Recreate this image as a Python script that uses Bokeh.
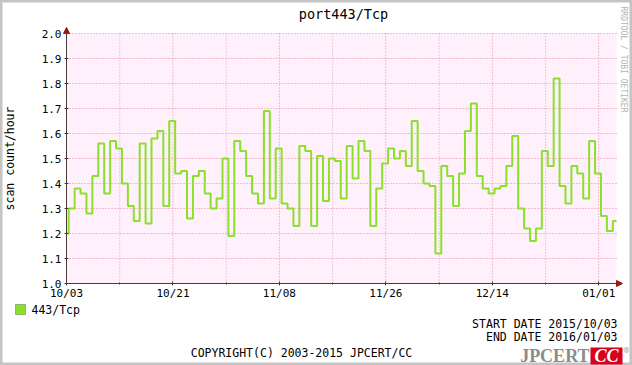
from datetime import datetime, timedelta
from math import pi
from bokeh.plotting import figure
from bokeh.models import (Range1d, FixedTicker, DatetimeTickFormatter, PrintfTickFormatter,
                          Label, Arrow, NormalHead, BoxAnnotation)
from bokeh.embed import file_html
from bokeh.resources import INLINE

# ---------------- data ----------------
title_text = "port443/Tcp"
series_name = "443/Tcp"
# daily values (each day starts 09:00 JST), first one starts 2015-10-02 09:00
values = [
    1.20, 1.30, 1.38, 1.36, 1.28, 1.43, 1.56, 1.36, 1.57, 1.54, 1.40, 1.31, 1.25, 1.56, 1.24, 1.58,
    1.61, 1.31, 1.65, 1.44, 1.45, 1.26, 1.43, 1.45, 1.36, 1.30, 1.34, 1.50, 1.19, 1.57, 1.53, 1.43,
    1.36, 1.32, 1.69, 1.34, 1.54, 1.32, 1.30, 1.23, 1.55, 1.53, 1.23, 1.51, 1.33, 1.50, 1.49,
    1.34, 1.55, 1.42, 1.57, 1.53, 1.23, 1.38, 1.48, 1.54, 1.50, 1.53, 1.47, 1.65, 1.45, 1.40, 1.39,
    1.12, 1.47, 1.43, 1.31, 1.44, 1.61, 1.72, 1.43, 1.38, 1.36, 1.38, 1.39, 1.47, 1.59, 1.30,
    1.22, 1.17, 1.22, 1.53, 1.47, 1.82, 1.39, 1.32, 1.47, 1.44, 1.34, 1.57, 1.44, 1.27, 1.21, 1.25,
]
first_step = datetime(2015, 10, 2, 9, 0)
range_start = datetime(2015, 10, 3)
range_end = datetime(2016, 1, 4)
x_major_dates = [datetime(2015, 10, 3), datetime(2015, 10, 21), datetime(2015, 11, 8),
                 datetime(2015, 11, 26), datetime(2015, 12, 14), datetime(2016, 1, 1)]
x_minor_dates = [datetime(2015, 10, 12), datetime(2015, 10, 30), datetime(2015, 11, 17),
                 datetime(2015, 12, 5), datetime(2015, 12, 23)]
y_ticks = [1.0, 1.1, 1.2, 1.3, 1.4, 1.5, 1.6, 1.7, 1.8, 1.9, 2.0]
y_min, y_max = 1.0, 2.0
y_label = "scan count/hour"
start_text = "START DATE 2015/10/03"
end_text = "END DATE 2016/01/03"
copyright_text = "COPYRIGHT(C) 2003-2015 JPCERT/CC"
side_text = "RRDTOOL / TOBI OETIKER"

# ---------------- layout helpers (canvas pixels -> data) ----------------
W, H = 632, 365
FR_L, FR_R, FR_T, FR_B = 66, 616, 33, 283        # plot area in pixels
EPOCH = datetime(1970, 1, 1)
def ms(d):
    return (d - EPOCH).total_seconds() * 1000.0
T0, T1 = ms(range_start), ms(range_end)
def px(xp):
    return T0 + (xp - FR_L) * (T1 - T0) / (FR_R - FR_L)
def py(yp):
    return y_min + (FR_B - yp) * (y_max - y_min) / (FR_B - FR_T)

xs = [max(ms(first_step + timedelta(days=i)), T0) for i in range(len(values))] + [T1]
ys = values + [values[-1]]

FONT = "DejaVu Sans Mono"
GREEN = "#8be02a"
AXIS = "#4a3a3a"
ARROW = "#a01414"
PINK = "#fff0fc"
GRID_MAJ = "#e4899b"
GRID_MIN = "#d6a6c2"

p = figure(width=W, height=H, output_backend="svg", toolbar_location=None,
           x_axis_type="datetime", title=None,
           x_range=Range1d(px(0), px(W)), y_range=Range1d(py(H), py(0)))
p.min_border = 0
p.min_border_left = 0
p.min_border_right = 0
p.min_border_top = 0
p.min_border_bottom = 0
p.background_fill_color = "white"
p.border_fill_color = "white"
p.outline_line_color = "#c4c4c4"
p.outline_line_width = 4
p.grid.visible = False

# pink plot area
p.add_layout(BoxAnnotation(left=T0, right=T1, bottom=y_min, top=y_max,
                           fill_color=PINK, fill_alpha=1.0, line_color=None, level="image"))

# grid lines
gx_major = [ms(d) for d in x_major_dates[1:]]
gx_minor = [ms(d) for d in x_minor_dates]
p.segment(x0=gx_minor, y0=[y_min] * len(gx_minor), x1=gx_minor, y1=[y_max] * len(gx_minor),
          line_color=GRID_MIN, line_width=1, line_dash="1 2", level="underlay")
p.segment(x0=gx_major, y0=[y_min] * len(gx_major), x1=gx_major, y1=[y_max] * len(gx_major),
          line_color=GRID_MAJ, line_width=1, line_dash="1 2", level="underlay")
gy = y_ticks[1:]
p.segment(x0=[T0] * len(gy), y0=gy, x1=[T1] * len(gy), y1=gy,
          line_color=GRID_MAJ, line_width=1, line_dash="1 2", level="underlay")

# axes at fixed locations
p.xaxis.ticker = FixedTicker(ticks=[ms(d) for d in x_major_dates],
                             minor_ticks=[ms(d) for d in x_minor_dates])
p.yaxis.ticker = FixedTicker(ticks=y_ticks, minor_ticks=[])
p.xaxis.formatter = DatetimeTickFormatter(days="%m/%d", months="%m/%d", years="%m/%d",
                                          hours="%m/%d", minutes="%m/%d", seconds="%m/%d",
                                          milliseconds="%m/%d", microseconds="%m/%d",
                                          hourmin="%m/%d", minsec="%m/%d")
p.yaxis.formatter = PrintfTickFormatter(format="%.1f")
p.xaxis.fixed_location = y_min
p.yaxis.fixed_location = T0
p.xaxis.bounds = (T0, T1)
p.yaxis.bounds = (y_min, y_max)

for ax in (p.xaxis[0], p.yaxis[0]):
    ax.axis_line_color = AXIS
    ax.axis_line_width = 1
    ax.major_tick_line_color = AXIS
    ax.minor_tick_line_color = AXIS
    ax.major_tick_out = 2
    ax.major_tick_in = 2
    ax.minor_tick_out = 1
    ax.minor_tick_in = 1
    ax.major_label_text_font = FONT
    ax.major_label_text_font_size = "11px"
    ax.major_label_text_color = "black"
p.xaxis.major_label_standoff = 1
p.yaxis.major_label_standoff = 3

p.yaxis.axis_label = y_label
p.yaxis.axis_label_text_font = FONT
p.yaxis.axis_label_text_font_size = "11.5px"
p.yaxis.axis_label_text_font_style = "normal"
p.yaxis.axis_label_text_color = "black"
p.yaxis.axis_label_standoff = 22

# data line
p.step(xs, ys, mode="after", line_color=GREEN, line_width=2)

# axis arrows
p.add_layout(Arrow(end=NormalHead(size=6, fill_color=ARROW, line_color=ARROW),
                   x_start=T0, y_start=y_max, x_end=T0, y_end=py(27),
                   line_color=AXIS, line_width=1))
p.add_layout(Arrow(end=NormalHead(size=6, fill_color=ARROW, line_color=ARROW),
                   x_start=T1, y_start=y_min, x_end=px(622), y_end=y_min,
                   line_color=AXIS, line_width=1))

def lab(text, xp, yp, align="left", size="11.5px", color="black", font=FONT,
        baseline="middle", style="normal", **kw):
    p.add_layout(Label(text=text, x=px(xp), y=py(yp), text_align=align,
                       text_baseline=baseline, text_font=font, text_font_size=size,
                       text_color=color, text_font_style=style, **kw))

lab(title_text, 343, 13, align="center", size="13.5px")
lab(side_text, 623, 6, size="8px", color="#b4b4b4", angle=-pi / 2)

# legend
p.add_layout(BoxAnnotation(left=px(15), right=px(25), top=py(304), bottom=py(314),
                           fill_color=GREEN, fill_alpha=1.0, line_color="#222222",
                           line_width=1))
lab(series_name, 31, 309)
lab(start_text, 617, 323, align="right")
lab(end_text, 617, 336, align="right")
lab(copyright_text, 301, 352, align="center")

# logo
p.add_layout(BoxAnnotation(left=px(590), right=px(622), top=py(347), bottom=py(364),
                           fill_color="#d8001c", fill_alpha=1.0, line_color=None))
lab("JPCERT", 589, 355, align="right", size="18px", color="#8c8c8c",
    font="Liberation Serif", style="bold")
lab("CC", 606, 355, align="center", size="18px", color="white",
    font="Liberation Serif", style="bold italic")
lab("\u00ae", 626, 350, align="center", size="8px", color="#999999")

open("out.html", "w").write(file_html(p, INLINE))
